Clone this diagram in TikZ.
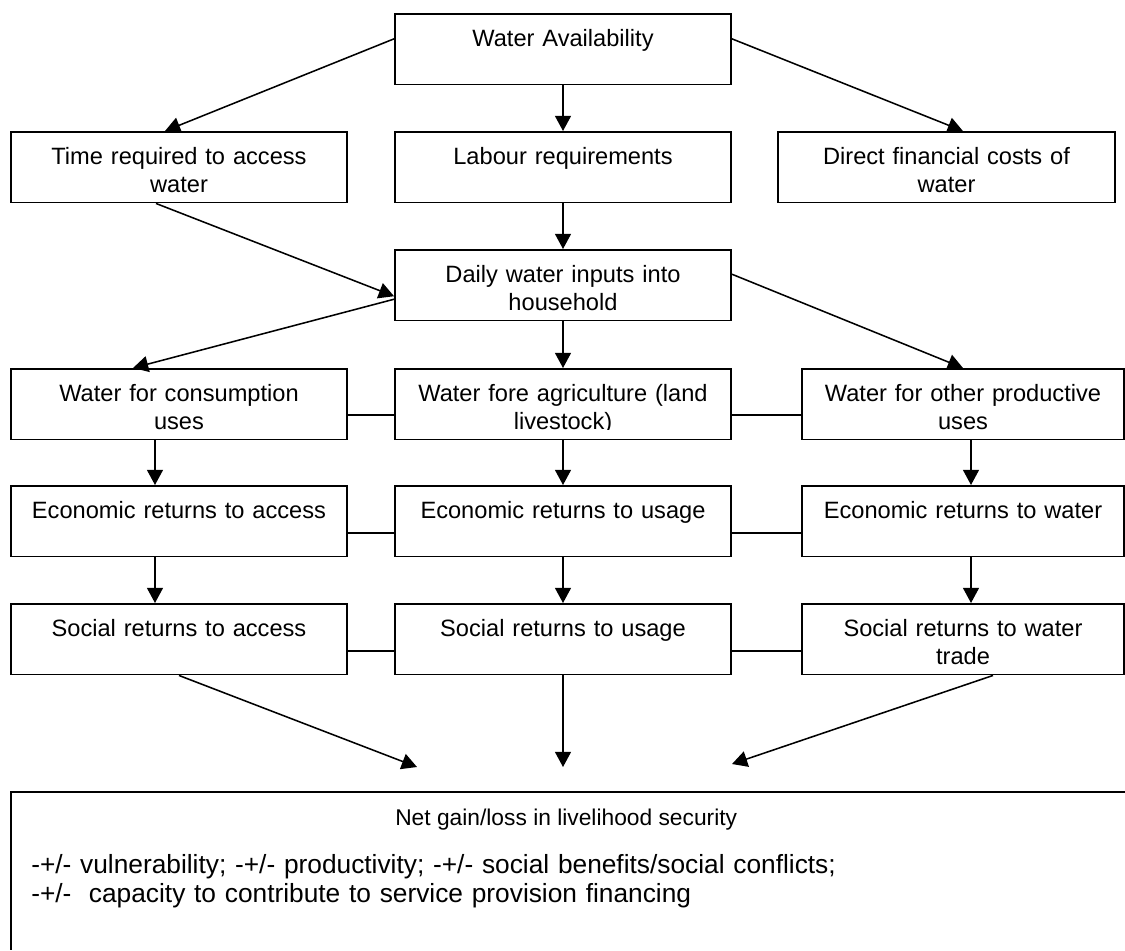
\documentclass[tikz,border=0pt]{standalone}
\usepackage{fontspec}
\setmainfont{Liberation Sans}
\usetikzlibrary{arrows.meta}

\begin{document}
\begin{tikzpicture}[x=0.025cm, y=-0.025cm,
	box/.style={draw, line width=1.3pt, rectangle, inner sep=0pt, anchor=north, align=center, text width=8.4cm, text height=0.825cm, text depth=0.94cm, font=\fontsize{16.8}{19.9}\selectfont},
	arr/.style={-{Triangle[length=0.38cm,width=0.4cm]}, line width=1.1pt},
	link/.style={line width=1.1pt}]
	% page setup
	
	\def\colL{179}
	\def\colM{563}
	\def\colR{963}
	
	\useasboundingbox (0,0) rectangle (1125,950);
	
	% boxes
	\node[box] (avail) at (\colM,13) {Water Availability};
	
	\node[box] (time) at (\colL,131) {Time required to access\\water};
	\node[box] (labour) at (\colM,131) {Labour requirements};
	\node[box, text width=8.425cm] (costs) at (946.5,131) {Direct financial costs of\\water};
	
	\node[box] (daily) at (\colM,249) {Daily water inputs into\\household};
	
	\node[box] (cons) at (\colL,368) {Water for consumption\\uses};
	\node[box] (agri) at (\colM,368) {};
	\begin{scope}
		\clip (agri.north west) rectangle ([yshift=0.28cm]agri.south east);
		\node[box, draw=none] (agritext) at (\colM,368) {Water fore agriculture (land\\livestock)};
	\end{scope}
	\node[box, text width=8.05cm] (other) at (\colR,368) {Water for other productive\\uses};
	
	\node[box] (ecoacc) at (\colL,485) {Economic returns to access};
	\node[box] (ecouse) at (\colM,485) {Economic returns to usage};
	\node[box, text width=8.05cm] (ecowat) at (\colR,485) {Economic returns to water};
	
	\node[box] (socacc) at (\colL,603) {Social returns to access};
	\node[box] (socuse) at (\colM,603) {Social returns to usage};
	\node[box, text width=8.05cm] (socwat) at (\colR,603) {Social returns to water\\trade};
	
	% net gain box (open to the right and bottom)
	\draw[line width=1.3pt] (1125,792) -- (11,792) -- (11,950);
	\node[anchor=base west, inner sep=0pt, font=\fontsize{16.2}{19.2}\selectfont] (net) at (395,825) {Net gain/loss in livelihood security};
	\node[anchor=base west, align=left, text width=27cm, inner sep=0pt, font=\fontsize{18.7}{21.3}\selectfont] (effects) at (31,873) {-+/- vulnerability; -+/- productivity; -+/- social benefits/social conflicts;\\-+/-\ \ capacity to contribute to service provision financing};
	
	\coordinate (inL) at (417,767);
	\coordinate (inM) at (\colM,767);
	\coordinate (inR) at (732,764);
	
	% arrows
	\draw[arr] ([yshift=0.26cm]avail.west) -- ([xshift=-0.35cm]time.north);
	\draw[arr] (avail.south) -- (labour.north);
	\draw[arr] ([yshift=0.26cm]avail.east) -- ([xshift=0.41cm]costs.north);
	
	\draw[arr] ([xshift=-0.575cm]time.south) -- ([yshift=-0.275cm]daily.west);
	\draw[arr] (labour.south) -- (daily.north);
	
	\draw[arr] ([yshift=-0.35cm]daily.west) -- ([xshift=-1.15cm]cons.north);
	\draw[arr] (daily.south) -- (agri.north);
	\draw[arr] ([yshift=0.275cm]daily.east) -- (other.north);
	
	\draw[arr] ([xshift=-0.6cm]cons.south) -- ([xshift=-0.6cm]ecoacc.north);
	\draw[arr] (agri.south) -- (ecouse.north);
	\draw[arr] ([xshift=0.2cm]other.south) -- ([xshift=0.2cm]ecowat.north);
	
	\draw[arr] ([xshift=-0.6cm]ecoacc.south) -- ([xshift=-0.6cm]socacc.north);
	\draw[arr] (ecouse.south) -- (socuse.north);
	\draw[arr] ([xshift=0.2cm]ecowat.south) -- ([xshift=0.2cm]socwat.north);
	
	\draw[arr] (socacc.south) -- (inL);
	\draw[arr] (socuse.south) -- (inM);
	\draw[arr] ([xshift=0.75cm]socwat.south) -- (inR);
	
	% side links
	\draw[link] ([yshift=-0.275cm]cons.east) -- ([yshift=-0.275cm]agri.west);
	\draw[link] ([yshift=-0.275cm]agri.east) -- ([yshift=-0.275cm]other.west);
	\draw[link] ([yshift=-0.29cm]ecoacc.east) -- ([yshift=-0.29cm]ecouse.west);
	\draw[link] ([yshift=-0.29cm]ecouse.east) -- ([yshift=-0.29cm]ecowat.west);
	\draw[link] ([yshift=-0.3cm]socacc.east) -- ([yshift=-0.3cm]socuse.west);
	\draw[link] ([yshift=-0.3cm]socuse.east) -- ([yshift=-0.3cm]socwat.west);
\end{tikzpicture}
\end{document}
